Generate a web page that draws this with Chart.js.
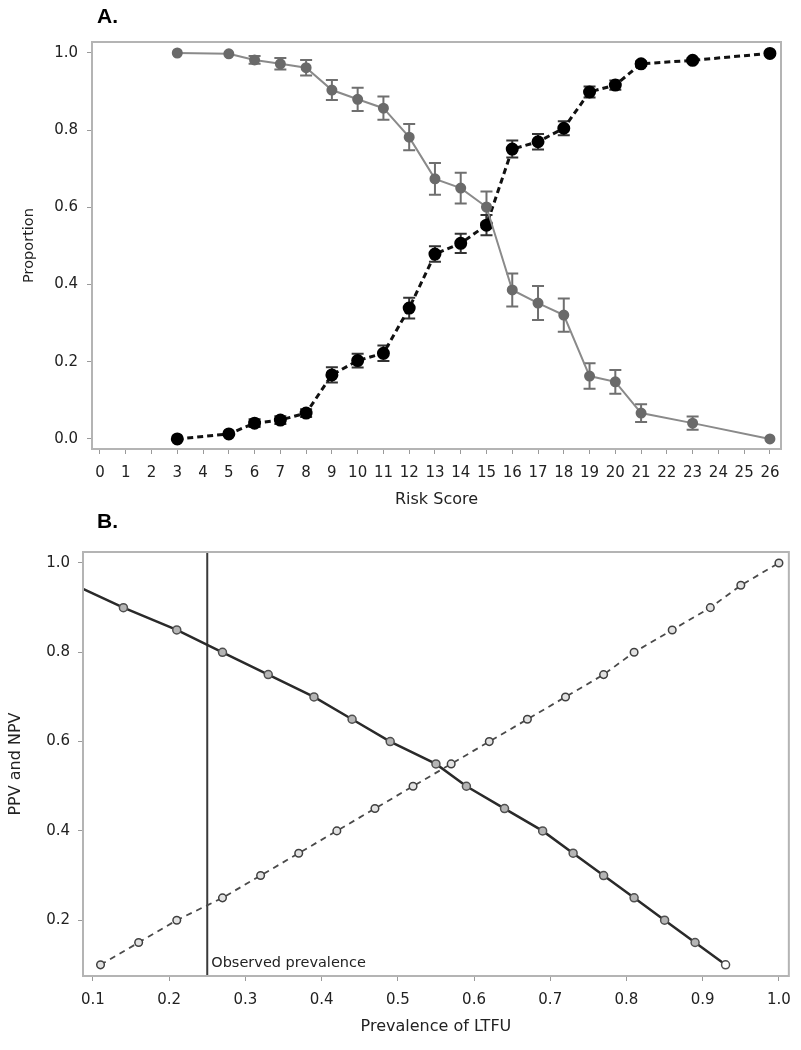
<!DOCTYPE html>
<html>
<head>
<meta charset="utf-8">
<title>Risk score and PPV/NPV</title>
<script src="https://cdn.jsdelivr.net/npm/chart.js@4.4.1/dist/chart.umd.min.js"></script>
<style>
  body { margin: 0; background: #fff; width: 801px; height: 1050px; position: relative; overflow: hidden; }
  canvas { position: absolute; left: 0; }
  .panel-label { position: absolute; font: bold 21px "Liberation Sans", Arial, sans-serif; line-height: 21px; color: #000; }
</style>
</head>
<body>
<canvas id="chartA" width="801" height="520" style="top:0"></canvas>
<canvas id="chartB" width="801" height="530" style="top:520px"></canvas>
<div class="panel-label" style="left:97px;top:5px">A.</div>
<div class="panel-label" style="left:97px;top:510px">B.</div>
<script>
// ---- Panel A data ----
const riskScores = [3, 5, 6, 7, 8, 9, 10, 11, 12, 13, 14, 15, 16, 17, 18, 19, 20, 21, 23, 26];
const grayProp = [1.0, 0.998, 0.982, 0.972, 0.962, 0.904, 0.880, 0.857, 0.782, 0.674, 0.650, 0.601, 0.386, 0.352, 0.321, 0.163, 0.148, 0.067, 0.041, 0.0];
const grayErr = [0, 0, 0.01, 0.015, 0.02, 0.026, 0.03, 0.03, 0.034, 0.041, 0.04, 0.04, 0.043, 0.044, 0.043, 0.033, 0.031, 0.023, 0.017, 0];
const blackProp = [0.0, 0.013, 0.041, 0.049, 0.067, 0.166, 0.203, 0.222, 0.339, 0.479, 0.507, 0.554, 0.751, 0.770, 0.805, 0.899, 0.917, 0.972, 0.981, 0.999];
const blackErr = [0, 0, 0.01, 0.01, 0.01, 0.02, 0.018, 0.02, 0.027, 0.02, 0.025, 0.026, 0.022, 0.02, 0.018, 0.014, 0.012, 0.006, 0.005, 0];
const riskTicks = [0, 1, 2, 3, 4, 5, 6, 7, 8, 9, 10, 11, 12, 13, 14, 15, 16, 17, 18, 19, 20, 21, 22, 23, 24, 25, 26];
const propTicks = [0.0, 0.2, 0.4, 0.6, 0.8, 1.0];

// ---- Panel B data ----
const ppvPrev = [0.087, 0.14, 0.21, 0.27, 0.33, 0.39, 0.44, 0.49, 0.55, 0.59, 0.64, 0.69, 0.73, 0.77, 0.81, 0.85, 0.89, 0.93];
const ppvValue = [0.942, 0.9, 0.85, 0.8, 0.75, 0.7, 0.65, 0.6, 0.55, 0.5, 0.45, 0.4, 0.35, 0.3, 0.25, 0.2, 0.15, 0.1];
const npvPrev = [0.11, 0.16, 0.21, 0.27, 0.32, 0.37, 0.42, 0.47, 0.52, 0.57, 0.62, 0.67, 0.72, 0.77, 0.81, 0.86, 0.91, 0.95, 1.0];
const npvValue = [0.1, 0.15, 0.2, 0.25, 0.3, 0.35, 0.4, 0.45, 0.5, 0.55, 0.6, 0.65, 0.7, 0.75, 0.8, 0.85, 0.9, 0.95, 1.0];
const prevTicks = [0.1, 0.2, 0.3, 0.4, 0.5, 0.6, 0.7, 0.8, 0.9, 1.0];
const pvTicks = [0.2, 0.4, 0.6, 0.8, 1.0];
const observedPrevalence = 0.25;

const FONT = 'DejaVu Sans';
const TEXT = '#222';

// Error bars drawn under the markers
const errorBarPlugin = {
  id: 'errorBars',
  beforeDatasetsDraw(chart) {
    const { ctx, scales: { x, y } } = chart;
    chart.data.datasets.forEach(ds => {
      if (!ds.errors) return;
      ctx.save();
      ctx.strokeStyle = ds.errorColor;
      ctx.lineWidth = 2;
      ds.data.forEach((pt, i) => {
        const e = ds.errors[i];
        if (!e) return;
        const px = x.getPixelForValue(pt.x);
        const top = y.getPixelForValue(pt.y + e);
        const bot = y.getPixelForValue(pt.y - e);
        ctx.beginPath();
        ctx.moveTo(px, top); ctx.lineTo(px, bot);
        ctx.moveTo(px - 6, top); ctx.lineTo(px + 6, top);
        ctx.moveTo(px - 6, bot); ctx.lineTo(px + 6, bot);
        ctx.stroke();
      });
      ctx.restore();
    });
  }
};

// Box round the plot area
const framePlugin = {
  id: 'frame',
  afterDraw(chart) {
    const { ctx, chartArea: a } = chart;
    ctx.save();
    ctx.strokeStyle = '#b4b4b4';
    ctx.lineWidth = 2;
    ctx.strokeRect(a.left, a.top, a.right - a.left, a.bottom - a.top);
    ctx.restore();
  }
};

// Vertical reference line with its label
const refLinePlugin = {
  id: 'refLine',
  beforeDatasetsDraw(chart, args, opts) {
    if (opts.value == null) return;
    const { ctx, chartArea: a, scales: { x } } = chart;
    const px = x.getPixelForValue(opts.value);
    ctx.save();
    ctx.strokeStyle = '#3a3a3a';
    ctx.lineWidth = 2;
    ctx.beginPath();
    ctx.moveTo(px, a.top); ctx.lineTo(px, a.bottom);
    ctx.stroke();
    ctx.fillStyle = TEXT;
    ctx.font = '14.5px "' + FONT + '"';
    ctx.textBaseline = 'middle';
    ctx.fillText(opts.label, px + 4, a.bottom - 13);
    ctx.restore();
  }
};

function gridOpts() {
  return { drawOnChartArea: false, drawTicks: true, tickLength: 5, color: '#9a9a9a', tickColor: '#9a9a9a' };
}

// ---- Panel A ----
new Chart(document.getElementById('chartA'), {
  type: 'line',
  data: {
    datasets: [
      {
        data: riskScores.map((x, i) => ({ x, y: grayProp[i] })),
        errors: grayErr,
        errorColor: '#6f6f6f',
        borderColor: '#8a8a8a',
        borderWidth: 2,
        pointRadius: 4.5,
        pointBackgroundColor: '#6a6a6a',
        pointBorderColor: '#6a6a6a',
        tension: 0
      },
      {
        data: riskScores.map((x, i) => ({ x, y: blackProp[i] })),
        errors: blackErr,
        errorColor: '#333',
        borderColor: '#111',
        borderWidth: 3,
        borderDash: [6, 4],
        pointRadius: 5,
        pointBackgroundColor: '#000',
        pointBorderColor: '#000',
        tension: 0
      }
    ]
  },
  options: {
    responsive: false,
    devicePixelRatio: 1,
    animation: false,
    layout: { padding: { left: 0, right: 20, top: 42, bottom: 0 } },
    plugins: { legend: { display: false }, tooltip: { enabled: false } },
    scales: {
      x: {
        type: 'linear', min: -0.31, max: 26.43,
        afterBuildTicks: s => { s.ticks = riskTicks.map(v => ({ value: v })); },
        afterFit: s => { s.height = 71; },
        ticks: { autoSkip: false, maxRotation: 0, padding: 10, color: TEXT, font: { family: FONT, size: 15 }, callback: v => String(v) },
        grid: gridOpts(),
        border: { display: false },
        title: { display: true, text: 'Risk Score', color: TEXT, font: { family: FONT, size: 16 }, padding: { top: 0, bottom: 11 } }
      },
      y: {
        type: 'linear', min: -0.026, max: 1.0285,
        afterBuildTicks: s => { s.ticks = propTicks.map(v => ({ value: v })); },
        afterFit: s => { s.width = 92; },
        ticks: { padding: 9, color: TEXT, font: { family: FONT, size: 15 }, callback: v => v.toFixed(1) },
        grid: gridOpts(),
        border: { display: false },
        title: { display: true, text: 'Proportion', color: TEXT, font: { family: FONT, size: 14.5 }, padding: { top: 21, bottom: 0 } }
      }
    }
  },
  plugins: [errorBarPlugin, framePlugin]
});

// ---- Panel B ----
new Chart(document.getElementById('chartB'), {
  type: 'line',
  data: {
    datasets: [
      {
        data: ppvPrev.map((x, i) => ({ x, y: ppvValue[i] })),
        borderColor: '#2a2a2a',
        borderWidth: 2.5,
        pointRadius: ppvPrev.map((v, i) => (i === 0 ? 0 : 4)),
        pointBackgroundColor: ppvPrev.map((v, i) => (i === ppvPrev.length - 1 ? '#fff' : '#b5b5b5')),
        pointBorderColor: '#505050',
        pointBorderWidth: 1.5,
        tension: 0
      },
      {
        data: npvPrev.map((x, i) => ({ x, y: npvValue[i] })),
        borderColor: '#4a4a4a',
        borderWidth: 1.8,
        borderDash: [6, 5],
        pointRadius: 3.8,
        pointBackgroundColor: '#e2e2e2',
        pointBorderColor: '#404040',
        pointBorderWidth: 1.5,
        tension: 0
      }
    ]
  },
  options: {
    responsive: false,
    devicePixelRatio: 1,
    animation: false,
    layout: { padding: { left: 0, right: 10, top: 32, bottom: 0 } },
    plugins: {
      legend: { display: false },
      tooltip: { enabled: false },
      refLine: { value: observedPrevalence, label: 'Observed prevalence' }
    },
    scales: {
      x: {
        type: 'linear', min: 0.087, max: 1.013,
        afterBuildTicks: s => { s.ticks = prevTicks.map(v => ({ value: v })); },
        afterFit: s => { s.height = 74; },
        ticks: { autoSkip: false, maxRotation: 0, padding: 10, color: TEXT, font: { family: FONT, size: 15 }, callback: v => v.toFixed(1) },
        grid: gridOpts(),
        border: { display: false },
        title: { display: true, text: 'Prevalence of LTFU', color: TEXT, font: { family: FONT, size: 16 }, padding: { top: 0, bottom: 14 } }
      },
      y: {
        type: 'linear', min: 0.075, max: 1.0246,
        afterBuildTicks: s => { s.ticks = pvTicks.map(v => ({ value: v })); },
        afterFit: s => { s.width = 83; },
        ticks: { padding: 8, color: TEXT, font: { family: FONT, size: 15 }, callback: v => v.toFixed(1) },
        grid: gridOpts(),
        border: { display: false },
        title: { display: true, text: 'PPV and NPV', color: TEXT, font: { family: FONT, size: 16 }, padding: { top: 6, bottom: 0 } }
      }
    }
  },
  plugins: [refLinePlugin, framePlugin]
});
</script>
</body>
</html>
